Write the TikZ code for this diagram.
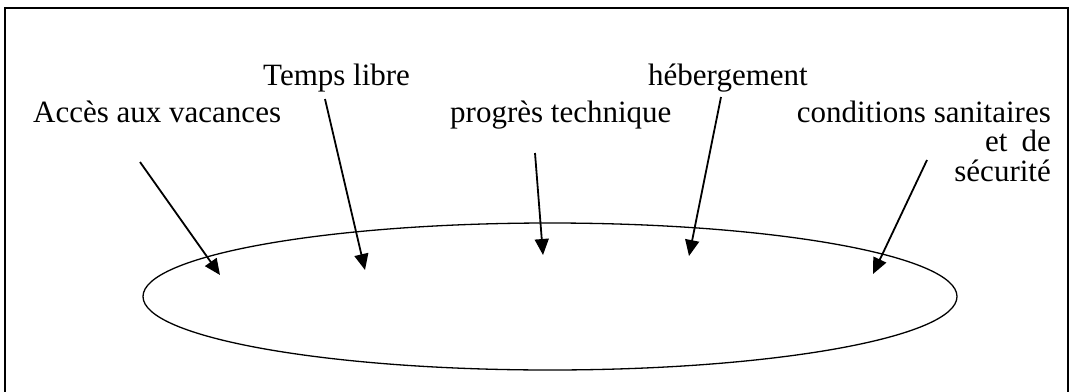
\documentclass[tikz,border=0pt]{standalone}
\usepackage{fontspec}
\setmainfont{Liberation Serif}
\usetikzlibrary{arrows.meta}
\begin{document}
\begin{tikzpicture}[x=1pt,y=-1pt,
  lbl/.style={anchor=base west,inner sep=0pt,font=\fontsize{31}{29.5}\selectfont},
  arr/.style={line width=1.8pt,-{Triangle[length=16pt,width=14pt]}}]
\useasboundingbox (0,0) rectangle (1073,391);
\draw[line width=1.8pt] (5,8) rectangle (1068,398);
\draw[line width=1.3pt] (550,296.5) ellipse [x radius=407,y radius=73.5];
\node[lbl] (acces) at (33,122) {Accès aux vacances};
\node[lbl] (temps) at (263,85) {Temps libre};
\node[lbl] (progres) at (450,122) {progrès technique};
\node[lbl] (heberg) at (648,85) {hébergement};
\node[lbl,anchor=base east,align=right] (cond) at (1051,181) {conditions sanitaires\\et\hspace{0.45em}de\\sécurité};
\coordinate (a1) at (140,162); \coordinate (b1) at (220,275);
\coordinate (a2) at (325,99);  \coordinate (b2) at (365,270);
\coordinate (a3) at (535,153); \coordinate (b3) at (543,255);
\coordinate (a4) at (721,97);  \coordinate (b4) at (689,256);
\coordinate (a5) at (927,160); \coordinate (b5) at (873,274);
\draw[arr] (a1) -- (b1);
\draw[arr] (a2) -- (b2);
\draw[arr] (a3) -- (b3);
\draw[arr] (a4) -- (b4);
\draw[arr] (a5) -- (b5);
\end{tikzpicture}
\end{document}
